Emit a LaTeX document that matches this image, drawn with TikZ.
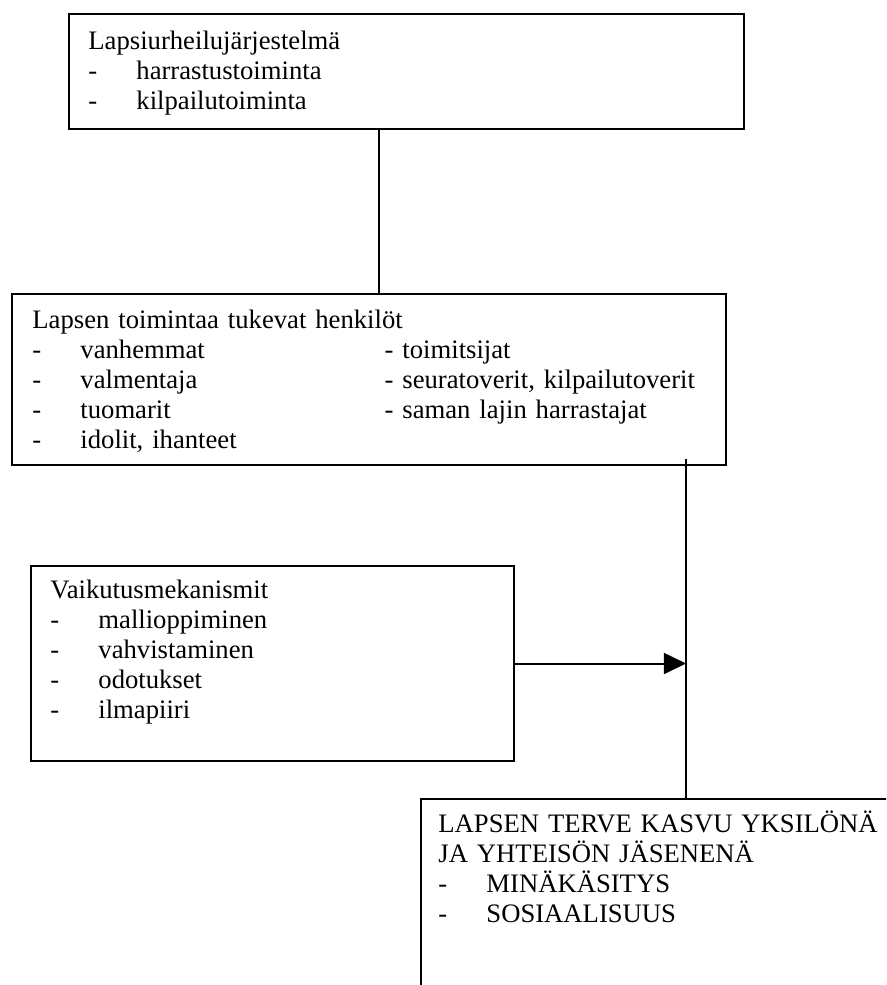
\documentclass[tikz,border=0pt]{standalone}
\usepackage{fontspec}
\setmainfont{Liberation Serif}
\usetikzlibrary{arrows.meta}

\newdimen\pxu
\pxu=0.45pt
\newcommand{\viiva}[1]{\makebox[21.6pt][l]{-}#1}
\newcommand{\kaksi}[2]{\makebox[158.5pt][l]{\viiva{#1}}- #2}

\tikzset{
  laatikko/.style={draw, line width=0.9pt, anchor=north west, inner sep=0pt},
  teksti/.style={anchor=base west, inner sep=0pt, text width=330pt, align=left,
    font=\fontsize{12}{13.5}\selectfont},
  yhteys/.style={line width=0.9pt},
}

\begin{document}
\begin{tikzpicture}[x=0.45pt, y=-0.45pt]
  \useasboundingbox (0,0) rectangle (886,985);
  \clip (0,0) rectangle (886,985);

  % laatikot
  \node[laatikko, minimum width=675\pxu, minimum height=115\pxu] (jarj) at (68,13) {};
  \node[laatikko, minimum width=714\pxu, minimum height=171\pxu] (henk) at (11,293) {};
  \node[laatikko, minimum width=483\pxu, minimum height=195\pxu] (meka) at (30,565) {};
  \node[laatikko, minimum width=600\pxu, minimum height=300\pxu] (kasvu) at (420,798) {};

  % tekstit
  \node[teksti] (jarjteksti) at ([shift={(20,37)}]jarj.north west) {%
    Lapsiurheilujärjestelmä\\
    \viiva{harrastustoiminta}\\
    \viiva{kilpailutoiminta}};
  \node[teksti] (henkteksti) at ([shift={(21,35)}]henk.north west) {%
    Lapsen toimintaa tukevat henkilöt\\
    \kaksi{vanhemmat}{toimitsijat}\\
    \kaksi{valmentaja}{seuratoverit, kilpailutoverit}\\
    \kaksi{tuomarit}{saman lajin harrastajat}\\
    \viiva{idolit, ihanteet}};
  \node[teksti] (mekateksti) at ([shift={(20,33)}]meka.north west) {%
    Vaikutusmekanismit\\
    \viiva{mallioppiminen}\\
    \viiva{vahvistaminen}\\
    \viiva{odotukset}\\
    \viiva{ilmapiiri}};
  \node[teksti] (kasvuteksti) at ([shift={(18,34)}]kasvu.north west) {%
    LAPSEN TERVE KASVU YKSILÖNÄ\\
    JA YHTEISÖN JÄSENENÄ\\
    \viiva{MINÄKÄSITYS}\\
    \viiva{SOSIAALISUUS}};

  % yhteydet
  \coordinate (v1) at (379,0);
  \coordinate (v2) at (686,0);
  \draw[yhteys] (jarj.south -| v1) -- (henk.north -| v1);
  \draw[yhteys, shorten <=-3pt] (henk.south -| v2) -- (kasvu.north -| v2);
  \draw[yhteys, -{Triangle[length=10pt, width=9.5pt]}] (meka.east) -- (meka.east -| v2);
\end{tikzpicture}
\end{document}
